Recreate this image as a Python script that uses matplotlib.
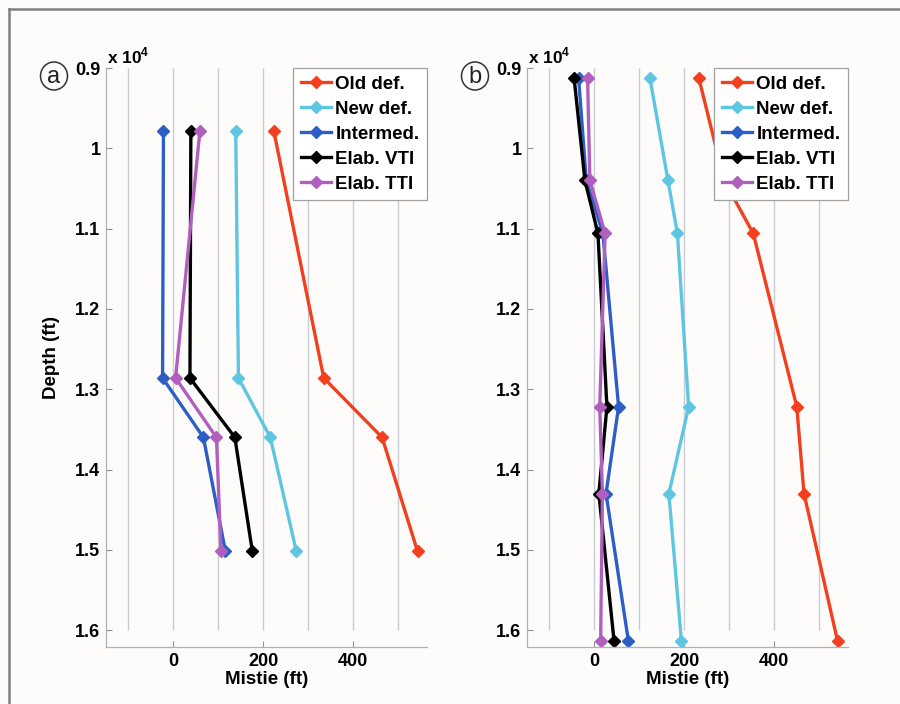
import matplotlib
matplotlib.use("Agg")
import matplotlib.pyplot as plt
from matplotlib.lines import Line2D
from matplotlib.patches import Ellipse
from matplotlib.ticker import FuncFormatter

plt.rcParams['font.family'] = ['Liberation Sans', 'DejaVu Sans']
plt.rcParams['mathtext.fontset'] = 'custom'
plt.rcParams['mathtext.rm'] = 'Liberation Sans:bold'
plt.rcParams['mathtext.bf'] = 'Liberation Sans:bold'

# (a) mistie vs depth
depth_a = [9790, 12860, 13600, 15020]
old_a = [224, 335, 465, 544]
new_a = [139, 145, 216, 274]
inter_a = [-22, -24, 67, 116]
vti_a = [39, 37, 137, 176]
tti_a = [59, 5, 96, 106]

# (b) mistie vs depth
depth_b = [9130, 10400, 11060, 13220, 14300, 16140]
old_b = [233, 289, 354, 451, 467, 542]
new_b = [124, 164, 185, 210, 166, 194]
inter_b = [-35, -18, 19, 54, 26, 76]
vti_b = [-45, -21, 8, 28, 10, 44]
tti_b = [-15, -10, 24, 12, 18, 14]

labels = ['Old def.', 'New def.', 'Intermed.', 'Elab. VTI', 'Elab. TTI']
colors = ['#f2401f', '#5ec6e0', '#2c5ec6', '#000000', '#b05fbf']

depth_ticks = [9000, 10000, 11000, 12000, 13000, 14000, 15000, 16000]
mistie_ticks = [0, 200, 400]
grid_x = [-100, 0, 100, 200, 300, 400, 500]

fig = plt.figure(figsize=(9, 7.04), dpi=100, facecolor='#fdfcfb')

# frame lines along top and left edge
fig.add_artist(Line2D([9/900, 1], [1-9/704, 1-9/704], transform=fig.transFigure,
                      color='#808080', lw=1.8))
fig.add_artist(Line2D([9/900, 9/900], [0, 1-9/704], transform=fig.transFigure,
                      color='#808080', lw=1.8))

spine_col = '#a9b3be'

def panel(left, depth, series, tag, tag_x, ylabel):
    ax = fig.add_axes([left/900, 1-647/704, 321/900, 579/704])
    ax.set_facecolor('none')
    ax.vlines(grid_x, depth_ticks[0], depth_ticks[-1], color='#c8ccd2', lw=1, zorder=0)
    for vals, lab, col in zip(series, labels, colors):
        ax.plot(vals, depth, color=col, lw=2.4, marker='D', ms=6, label=lab)
    ax.set_xlim(-150, 565)
    ax.set_ylim(16210, 9000)
    ax.set_xticks(mistie_ticks)
    ax.set_yticks(depth_ticks)
    ax.yaxis.set_major_formatter(FuncFormatter(lambda v, p: f'{v/1e4:g}'))
    for s in ['top', 'right']:
        ax.spines[s].set_visible(False)
    for s in ['left', 'bottom']:
        ax.spines[s].set_color(spine_col)
        ax.spines[s].set_linewidth(0.9)
    ax.tick_params(direction='in', length=4, width=0.8, color='#8a929c',
                   labelsize=13, pad=4)
    for t in ax.get_xticklabels() + ax.get_yticklabels():
        t.set_fontweight('bold')
    ax.set_xlabel('Mistie (ft)', fontsize=13.5, fontweight='bold', labelpad=1)
    if ylabel:
        ax.set_ylabel('Depth (ft)', fontsize=13.5, fontweight='bold')
        ax.yaxis.set_label_coords(-0.143, 0.5)
    ax.text(0.003, 1.008, r'x 10$^{4}$', transform=ax.transAxes, fontsize=12.5,
            fontweight='bold', ha='left', va='baseline')
    leg = ax.legend(loc='upper right', bbox_to_anchor=(1.0, 1.0), borderaxespad=0,
                    fancybox=False, framealpha=1, edgecolor='#a0a0a0',
                    prop={'size': 13.5, 'weight': 'bold'}, handlelength=1.6,
                    handletextpad=0.25, labelspacing=0.42, borderpad=0.4)
    leg.get_frame().set_linewidth(0.9)
    # circled panel letter
    fig.add_artist(Ellipse((tag_x/900, 1-76/704), 27/900, 28/704,
                           transform=fig.transFigure, fill=False,
                           ec='#333333', lw=1.1))
    fig.text(tag_x/900, 1-77/704, tag, fontsize=17, ha='center', va='center',
             color='#222222')
    return ax

panel(106, depth_a, [old_a, new_a, inter_a, vti_a, tti_a], 'a', 54, True)
panel(527, depth_b, [old_b, new_b, inter_b, vti_b, tti_b], 'b', 475, False)

fig.savefig('out.png', dpi=100, facecolor=fig.get_facecolor())
